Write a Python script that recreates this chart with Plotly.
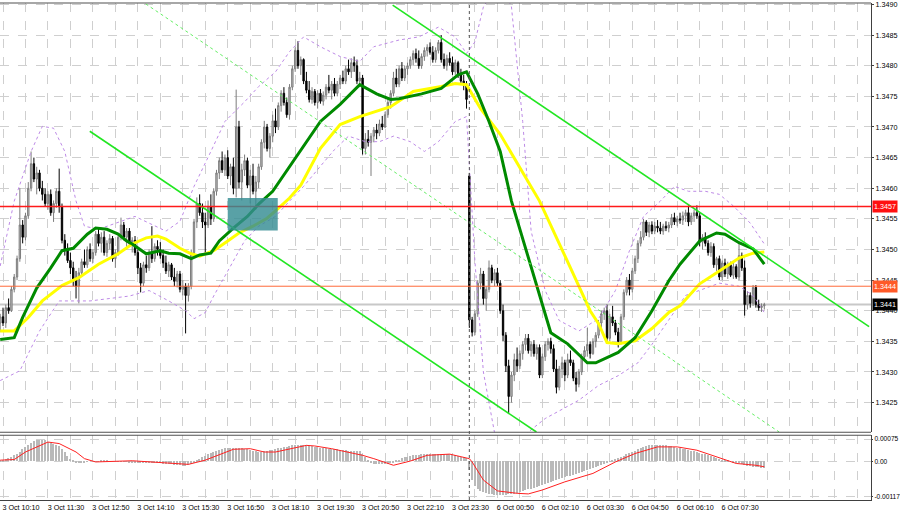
import plotly.graph_objects as go

# ---------------- data (prices given in points above 1.34000, 1 pt = 0.00001) ----------------
BASE = 1.34
PT = 1e-5

bar_index = list(range(-1, 272))   # M5 bars, 0 = 3 Oct 10:10, 166 = 6 Oct 00:00

open_pts = [380,390,380,405,400,435,455,485,540,520,
            555,600,640,615,625,600,590,575,590,560,
            575,595,570,515,500,482,470,450,440,462,
            480,475,500,485,495,525,510,520,495,510,
            518,485,495,520,540,520,530,510,515,495,
            470,445,475,470,495,485,505,500,490,478,
            465,475,455,448,460,435,440,425,440,495,
            545,575,560,545,540,570,550,595,625,645,
            630,650,620,635,600,700,610,630,645,605,
            620,595,610,635,675,700,665,685,710,700,
            735,755,740,720,765,795,825,800,810,775,
            760,745,758,740,755,742,752,765,760,770,
            755,770,780,775,795,790,805,800,775,780,
            665,680,675,685,695,690,705,700,720,740,
            755,780,770,795,780,795,800,810,820,812,
            800,815,825,830,822,810,825,838,810,800,
            812,805,790,805,785,775,770,620,385,365,
            395,445,460,420,435,470,450,462,445,400,
            360,310,260,295,320,310,330,345,355,335,
            345,330,340,295,325,345,350,338,305,275,
            305,315,295,320,315,290,280,300,325,335,
            345,330,350,360,380,395,400,355,390,380,
            365,350,390,430,450,435,465,485,510,520,
            545,528,540,530,538,535,530,538,535,540,
            552,545,550,548,555,560,545,555,560,555,
            512,520,510,495,505,475,485,455,478,460,
            475,458,472,455,490,470,410,425,412,438,
            410,405,408]
high_pts = [395,405,410,420,440,460,490,600,548,560,
            610,660,650,635,630,612,600,595,598,580,
            600,632,575,525,510,495,480,465,470,485,
            500,505,510,500,530,535,528,530,515,525,
            522,500,525,552,545,535,535,520,522,500,
            478,480,490,500,538,510,515,512,500,490,
            480,478,470,465,465,450,445,445,500,550,
            585,590,575,560,580,590,600,630,650,660,
            655,662,640,650,761,710,640,655,650,630,
            640,620,640,680,710,705,690,720,730,740,
            760,765,748,770,800,830,840,815,812,790,
            775,765,762,760,762,758,770,785,775,780,
            775,785,792,800,810,812,815,810,790,785,
            690,695,690,700,705,712,718,725,745,760,
            790,795,800,806,800,805,815,825,828,825,
            820,830,835,838,832,830,842,850,820,818,
            822,815,810,808,795,785,775,625,390,400,
            450,470,465,440,482,475,468,470,450,410,
            365,320,300,330,340,335,350,362,362,350,
            352,345,345,330,350,355,356,345,320,310,
            325,320,330,335,320,300,305,330,342,372,
            350,355,365,385,400,405,410,395,408,385,
            372,395,435,455,460,470,490,515,530,550,
            548,545,546,545,548,545,542,546,545,558,
            560,555,560,562,565,572,560,565,572,560,
            525,528,515,512,510,488,490,482,485,480,
            480,478,476,510,495,482,432,430,442,442,
            418,412,413]
low_pts = [365,375,372,395,398,430,450,480,510,515,
           550,595,610,590,595,580,570,565,555,545,
           568,560,510,490,478,460,440,420,412,455,
           470,470,480,478,490,505,495,490,488,500,
           480,470,490,515,515,500,505,495,490,460,
           430,440,462,465,478,480,490,485,470,460,
           455,450,440,438,430,425,363,415,435,490,
           535,555,535,493,535,540,545,588,615,625,
           620,615,605,590,585,600,580,620,600,575,
           590,565,600,630,665,660,650,675,690,695,
           725,735,715,712,760,790,795,785,770,755,
           740,738,735,730,738,735,745,755,745,750,
           750,762,770,770,785,780,790,770,765,655,
           655,668,620,675,680,685,695,698,715,730,
           750,765,765,775,775,785,795,800,805,795,
           795,808,815,818,805,805,820,805,795,792,
           800,785,785,780,770,760,730,372,358,360,
           390,435,410,400,430,445,440,440,395,350,
           300,233,250,285,300,305,320,335,330,325,
           325,320,290,290,318,335,330,300,265,270,
           290,285,290,310,285,268,275,295,318,325,
           322,328,340,355,372,385,350,350,375,360,
           340,345,385,425,425,430,460,478,505,515,
           522,520,525,525,528,525,524,530,528,535,
           540,538,542,540,545,538,540,545,550,505,
           500,505,490,488,470,465,450,450,455,452,
           455,452,452,450,465,392,402,405,408,405,
           400,398,402]
close_pts = [390,380,405,400,435,455,485,540,520,555,
             600,640,615,625,600,590,575,590,560,575,
             595,570,515,500,482,470,450,440,462,480,
             475,500,485,495,525,510,520,495,510,518,
             485,495,520,540,520,530,510,515,495,470,
             445,475,470,495,485,505,500,490,478,465,
             475,455,448,460,435,440,425,440,495,545,
             575,560,545,540,570,550,595,625,645,630,
             650,620,635,600,700,610,630,645,605,620,
             595,610,635,675,700,665,685,710,700,735,
             755,740,720,765,795,825,800,810,775,760,
             745,758,740,755,742,752,765,760,770,755,
             770,780,775,795,790,805,800,775,780,665,
             680,675,685,695,690,705,700,720,740,755,
             780,770,795,780,795,800,810,820,812,800,
             815,825,830,822,810,825,838,810,800,812,
             805,790,805,785,775,770,745,385,365,395,
             445,460,420,435,470,450,462,445,400,360,
             310,260,295,320,310,330,345,355,335,345,
             330,340,295,325,345,350,338,305,275,305,
             315,295,320,315,290,280,300,325,335,345,
             330,350,360,380,395,400,355,390,380,365,
             350,390,430,450,435,465,485,510,520,545,
             528,540,530,538,535,530,538,535,540,552,
             545,550,548,555,560,545,555,560,555,512,
             520,510,495,505,475,485,455,478,460,475,
             458,472,455,490,470,410,425,412,438,410,
             405,408,410]

# moving averages (bar index, points)
green_ma_bars = [-1,4,7,12,17,21,25,30,33,37,41,44,46,51,56,59,63,67,70,74,
                 77,82,87,91,96,101,106,113,120,127,133,138,141,149,156,162,165,169,173,177,
                 181,195,201,208,211,219,225,231,237,241,248,254,257,262,267,271]
green_ma_pts = [353,356,389,437,470,498,502,525,535,533,525,514,509,493,498,494,493,485,491,494,
                514,535,554,574,595,628,663,709,737,769,754,745,746,754,763,785,790,754,709,660,
                579,364,346,315,315,332,356,400,449,476,514,527,525,511,501,476]
yellow_ma_bars = [-1,4,9,14,21,27,34,41,46,51,55,58,63,67,70,75,80,84,89,94,
                  98,102,106,113,120,127,138,146,156,161,165,170,177,191,202,209,212,215,219,225,
                  231,237,241,248,255,262,267,271]
yellow_ma_pts = [367,367,389,416,441,454,476,493,509,519,522,517,502,493,489,498,514,527,538,551,
                 567,584,605,665,704,717,733,758,766,771,769,730,688,579,470,400,379,348,346,351,
                 371,397,408,444,465,486,494,496]

# Bollinger bands (dotted violet)
bb_upper_bars = [-1,4,10,14,18,22,26,29,34,42,47,52,58,63,68,74,79,86,91,97,
                 102,107,113,120,127,132,141,148,155,161,165,168,171,177,181,185,188,193,198,205,
                 212,218,223,228,234,239,244,250,255,260,266,271]
bb_upper_pts = [473,579,660,701,698,660,579,538,533,546,554,543,530,546,603,660,709,741,766,790,
                823,847,831,815,807,831,842,847,863,847,820,839,896,937,896,709,530,433,384,367,
                387,433,498,554,579,603,595,595,590,571,543,509]
bb_lower_bars = [-1,6,13,20,31,45,52,59,65,68,72,75,81,86,91,97,102,107,113,118,
                 123,129,134,139,145,150,155,161,165,168,171,175,182,187,193,198,205,212,219,226,
                 231,243,255,262,267,271]
bb_lower_pts = [286,302,367,416,416,424,433,416,400,387,397,424,473,514,538,554,579,603,636,663,
                685,676,676,685,676,660,676,709,717,480,300,200,180,202,224,237,254,278,294,315,
                345,425,445,440,425,397]

# MACD (units of 0.00001)
macd_main = [3,5,8,10, 15,20,25,30, 40,48,55,62, 68,71,72,72,70, 66,62,58,55,50, 42,30,18,8,
             2,-2,-3,-3,-2,-1,0,0, 1,1,2,2,2,1,0,0,-1,-1,-1,-1,-2,-2,
             -3,-3,-4,-4,-5,-5,-5,-5,-6,-6,-7,-7, -8,-10,-11,-12,-13,-14,-14,-13,-10,
             -5,2,8,14,18, 24,28,32,36,39,42,44, 45,46,46,46,45,44,42, 40,37,35,33,32,32,
             33,35,37,39,41,43, 45,47,49,51,53,55,56, 56,55,54,52,50,49,48,
             46,45,43,42,41,40,40,39,38,37,36,36,35,34,33, 25,15,6,
             -3,-7,-9,-10,-10,-9,-7,-5, -2,2,6,10,13,16,18,20,21,
             22,23,24,24,25,25,25,25,24,24,23,23, 22,20,18,16,14,12,
             -30,-60,-80, -90,-98,-103,-106,-108,-109,-110,-110,-110,-110,-110,-109,-108,-107,-105,
             -102,-99,-96,-93,-90,-87,-84,-81,-78,-75,-72,
             -68,-65,-62,-59,-56,-53,-50,-47,-44,-41,-38,-35,
             -31,-28,-25,-22,-19,-16,-12,-8,-4,-1, 3,7,11,15,19,23,27,31,35,
             40,44,48,51,53,54,55, 55,55,54,53,52,50,48,46,44,
             42,40,38,36,34,32,29,26,23,20, 17,14,11,8,6,4,2,0,-2,-4,
             -6,-8,-11,-14,-16,-18,-19,-20,-21,-22]
signal_bars = [-1,4,8,16,20,26,29,33,46,58,66,72,82,88,93,97,102,108,111,117,
               125,128,132,139,145,151,159,166,167,171,176,183,187,192,200,210,218,225,233,240,
               247,254,261,268,271]
signal_vals = [5,7,32,65,60,32,10,-1,3,-4,-9,5,41,43,32,32,43,54,52,43,
               27,21,10,-12,2,21,25,10,-1,-61,-97,-105,-107,-94,-67,-39,-1,27,49,49,
               38,16,-6,-12,-17]

# axis labels
time_tick_bars = list(range(0, 257, 16))
time_tick_labels = ["3 Oct 10:10", "3 Oct 11:30", "3 Oct 12:50", "3 Oct 14:10", "3 Oct 15:30",
                    "3 Oct 16:50", "3 Oct 18:10", "3 Oct 19:30", "3 Oct 20:50", "3 Oct 22:10",
                    "3 Oct 23:30", "6 Oct 00:50", "6 Oct 02:10", "6 Oct 03:30", "6 Oct 04:50",
                    "6 Oct 06:10", "6 Oct 07:30"]
price_ticks = [1.3425, 1.3430, 1.3435, 1.3440, 1.3445, 1.3450, 1.3455,
               1.3460, 1.3465, 1.3470, 1.3475, 1.3480, 1.3485, 1.3490]
macd_ticks = [0.00075, 0.0, -0.00117]
macd_tick_labels = ["0.00075", "0.00", "-0.00117"]

# levels and drawn objects
resistance_level = 1.3457
orange_level = 1.3444
bid_level = 1.3441
day_separator_bar = 166
upper_channel = [(138.7, 1.34899), (308.3, 1.34374)]
lower_channel = [(30.9, 1.34693), (189.9, 1.34202)]
mid_channel = [(50.8, 1.34901), (276.3, 1.34202)]
signal_box = [(80.0, 1.34531), (97.8, 1.34584)]

# ---------------- figure ----------------
def to_price(pts):
    return [BASE + v * PT for v in pts]

fig = go.Figure()

fig.add_trace(go.Bar(x=bar_index, y=[v * PT for v in macd_main], yaxis="y2",
                     marker=dict(color="#b9b9b9", line=dict(width=0)), width=0.5))
fig.add_trace(go.Scatter(x=signal_bars, y=[v * PT for v in signal_vals], yaxis="y2",
                         mode="lines", line=dict(color="#ff2020", width=1)))

fig.add_trace(go.Candlestick(
    x=bar_index, open=to_price(open_pts), high=to_price(high_pts),
    low=to_price(low_pts), close=to_price(close_pts),
    increasing=dict(line=dict(color="#7c7c7c", width=1), fillcolor="#c4c4c4"),
    decreasing=dict(line=dict(color="#000000", width=1), fillcolor="#000000"),
    whiskerwidth=0))

for bars, pts in ((bb_upper_bars, bb_upper_pts), (bb_lower_bars, bb_lower_pts)):
    fig.add_trace(go.Scatter(x=bars, y=to_price(pts), mode="lines",
                             line=dict(color="#bd8ae6", width=1, dash="dot")))
fig.add_trace(go.Scatter(x=yellow_ma_bars, y=to_price(yellow_ma_pts), mode="lines",
                         line=dict(color="#ffff00", width=3)))
fig.add_trace(go.Scatter(x=green_ma_bars, y=to_price(green_ma_pts), mode="lines",
                         line=dict(color="#008a00", width=3)))

shapes = []
for (a, b), dash, w, col in ((upper_channel, "solid", 1.6, "#22e622"),
                             (lower_channel, "solid", 1.6, "#22e622"),
                             (mid_channel, "dot", 1, "#66ee66")):
    shapes.append(dict(type="line", xref="x", yref="y", x0=a[0], y0=a[1], x1=b[0], y1=b[1],
                       line=dict(color=col, width=w, dash=dash)))
shapes.append(dict(type="line", xref="paper", yref="y", x0=0, x1=1, y0=bid_level, y1=bid_level,
                   line=dict(color="#c8c8c8", width=2), layer="below"))
shapes.append(dict(type="line", xref="paper", yref="y", x0=0, x1=1, y0=orange_level, y1=orange_level,
                   line=dict(color="#ff6a3a", width=1)))
shapes.append(dict(type="line", xref="paper", yref="y", x0=0, x1=1, y0=resistance_level, y1=resistance_level,
                   line=dict(color="#ff1a1a", width=1.5)))
shapes.append(dict(type="rect", xref="x", yref="y", x0=signal_box[0][0], x1=signal_box[1][0],
                   y0=signal_box[0][1], y1=signal_box[1][1],
                   fillcolor="rgba(52,140,146,0.82)", line=dict(width=0)))
shapes.append(dict(type="line", xref="x", yref="paper", x0=day_separator_bar, x1=day_separator_bar,
                   y0=0, y1=1, line=dict(color="#555555", width=1, dash="dot")))
MAIN_DOM = [0.1363, 1.0]
MACD_DOM = [0.0, 0.1303]
for yy in (MAIN_DOM[1], MAIN_DOM[0], MACD_DOM[1]):
    shapes.append(dict(type="line", xref="paper", yref="paper", x0=0, x1=1, y0=yy, y1=yy,
                       line=dict(color="#505050", width=1.2)))

annotations = []
for lvl, bg in ((resistance_level, "#ff1010"), (orange_level, "#ff5a28"), (bid_level, "#000000")):
    annotations.append(dict(xref="paper", yref="y", x=1, y=lvl, xanchor="left", yanchor="middle",
                            xshift=1, text=f"{lvl:.4f}", showarrow=False, bgcolor=bg,
                            borderpad=1, font=dict(color="white", size=7.2, family="Liberation Sans")))

grid_x = list(range(0, 305, 8))
grid_text = [time_tick_labels[time_tick_bars.index(b)] if b in time_tick_bars else "" for b in grid_x]

tickfont = dict(size=7.2, family="Liberation Sans", color="#000000")
fig.update_layout(
    width=900, height=515, margin=dict(l=0, r=28, t=1, b=15),
    paper_bgcolor="white", plot_bgcolor="white", showlegend=False, bargap=0,
    xaxis=dict(range=[-1.067, 308.98], anchor="y2", tickvals=grid_x, ticktext=grid_text,
               showgrid=True, gridcolor="#cfcfcf", griddash="dash", gridwidth=1,
               showline=True, linecolor="#404040", linewidth=1.2, zeroline=False,
               ticks="", tickfont=tickfont, ticklabelshift=18, tickangle=0,
               rangeslider=dict(visible=False)),
    yaxis=dict(domain=MAIN_DOM, range=[1.342016, 1.349024], side="right",
               tickvals=price_ticks, ticktext=[f"{p:.4f}" for p in price_ticks],
               showgrid=True, gridcolor="#cfcfcf", griddash="dash", gridwidth=1,
               showline=True, linecolor="#404040", linewidth=1.2, zeroline=False,
               ticks="outside", ticklen=2, tickcolor="#404040", tickfont=tickfont,
               ticklabeloverflow="allow"),
    yaxis2=dict(domain=MACD_DOM, range=[-0.001272, 0.000876], side="right",
                tickvals=macd_ticks, ticktext=macd_tick_labels,
                showgrid=True, gridcolor="#cfcfcf", griddash="dash", gridwidth=1,
                showline=True, linecolor="#404040", linewidth=1.2, zeroline=False,
                ticks="outside", ticklen=1, tickcolor="#404040",
                tickfont=dict(size=6.6, family="Liberation Sans", color="#000000"),
                ticklabeloverflow="allow"),
    shapes=shapes, annotations=annotations,
)

fig.write_html("out.html", config={"displayModeBar": False},
               post_script="document.body.style.margin='0';document.body.style.overflow='hidden';")
